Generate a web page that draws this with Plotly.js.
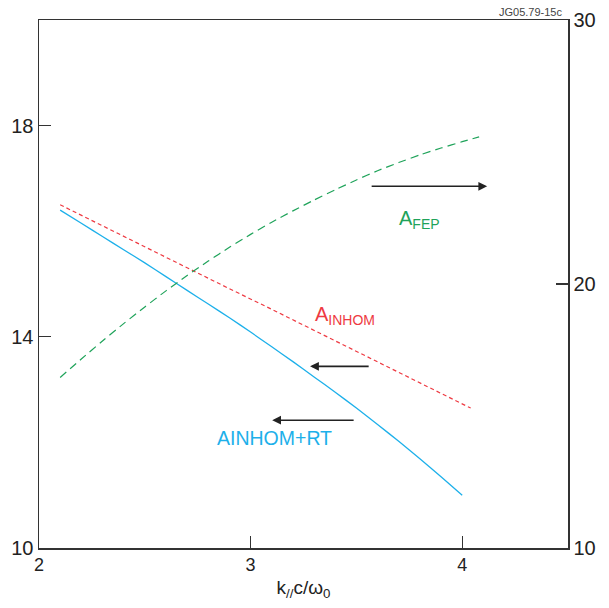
<!DOCTYPE html>
<html>
<head>
<meta charset="utf-8">
<script src="https://cdn.plot.ly/plotly-3.0.1.min.js"></script>
<style>html,body{margin:0;padding:0;background:#fff;}#chart{width:609px;height:608px;}</style>
</head>
<body>
<div id="chart"></div>
<script>
// k//c/w0 values
const kBlue = [2.1,2.2,2.3,2.4,2.5,2.6,2.7,2.8,2.9,3.0,3.1,3.2,3.3,3.4,3.5,3.6,3.7,3.8,3.9,4.0];
const aInhomRT = [16.40,16.15,15.90,15.65,15.40,15.14,14.88,14.62,14.36,14.09,13.81,13.53,13.24,12.95,12.65,12.34,12.02,11.69,11.35,11.00];

const kRed = [2.1,2.3,2.5,2.7,2.9,3.1,3.3,3.5,3.7,3.9,4.04];
const aInhom = [16.50,16.10,15.71,15.31,14.91,14.52,14.12,13.72,13.33,12.93,12.65];

const kGreen = [2.1,2.2,2.3,2.4,2.5,2.6,2.7,2.8,2.9,3.0,3.1,3.2,3.3,3.4,3.5,3.6,3.7,3.8,3.9,4.0,4.08];
const aFep = [16.46,17.16,17.84,18.50,19.13,19.74,20.32,20.87,21.39,21.88,22.34,22.77,23.18,23.57,23.94,24.29,24.60,24.89,25.15,25.39,25.57];

const xTicks = [2,3,4];
const yLeftTicks = [10,14,18];
const yRightTicks = [10,20,30];

// arrows: [tailX, headX, y(left axis)]
const arrows = [[3.565,4.118,16.85],[3.565,3.281,13.44],[3.494,3.102,12.42]];

const FONT = 'Liberation Sans, Arial, Helvetica, sans-serif';
const AX = '#333333';

const traces = [
  {x:kBlue, y:aInhomRT, mode:'lines', line:{color:'#1db0ea', width:1.3, shape:'spline', smoothing:0.6}, yaxis:'y', hoverinfo:'skip'},
  {x:kRed, y:aInhom, mode:'lines', line:{color:'#ee3a42', width:1.2, dash:'4px,3px'}, yaxis:'y', hoverinfo:'skip'},
  {x:kGreen, y:aFep, mode:'lines', line:{color:'#1fa35a', width:1.2, dash:'8px,5px', shape:'spline', smoothing:0.6}, yaxis:'y2', hoverinfo:'skip'}
];

const annotations = arrows.map(a => ({
  x:a[1], y:a[2], ax:a[0], ay:a[2], xref:'x', yref:'y', axref:'x', ayref:'y',
  showarrow:true, arrowhead:2, arrowsize:1.1, arrowwidth:1.6, arrowcolor:'#222', text:''
}));
annotations.push(
  {x:3.80, y:16.22, xref:'x', yref:'y', text:'A<sub>FEP</sub>', showarrow:false,
   font:{family:FONT, size:20, color:'#1fa35a'}},
  {x:3.447, y:14.40, xref:'x', yref:'y', text:'A<sub>INHOM</sub>', showarrow:false,
   font:{family:FONT, size:20, color:'#ee3a42'}},
  {x:3.113, y:12.08, xref:'x', yref:'y', text:'AINHOM+RT', showarrow:false,
   font:{family:FONT, size:19.5, color:'#1db0ea'}},
  {x:1.0, y:1.0, xref:'paper', yref:'paper', text:'JG05.79-15c', showarrow:false,
   xanchor:'right', yanchor:'middle', xshift:-4, yshift:8, font:{family:FONT, size:11, color:'#444'}}
);

const layout = {
  width:609, height:608,
  margin:{l:39, r:41, t:19.5, b:59.5, pad:0},
  paper_bgcolor:'#fff', plot_bgcolor:'#fff',
  showlegend:false,
  font:{family:FONT, color:'#222'},
  xaxis:{range:[2,4.5], tickvals:xTicks, ticktext:xTicks.map(String),
    ticks:'inside', ticklen:12, tickwidth:1.2, tickcolor:AX,
    showline:true, linecolor:AX, linewidth:1.5, mirror:true,
    showgrid:false, zeroline:false, tickfont:{family:FONT, size:18, color:'#222'},
    title:{text:'k<sub>//</sub>c/ω<sub>0</sub>', font:{family:FONT, size:19, color:'#222'}, standoff:6}},
  yaxis:{range:[10,20], tickvals:yLeftTicks, ticktext:yLeftTicks.map(String),
    ticks:'inside', ticklen:12, tickwidth:1.2, tickcolor:AX,
    showline:true, linecolor:AX, linewidth:1.5,
    showgrid:false, zeroline:false, tickfont:{family:FONT, size:20, color:'#222'}},
  yaxis2:{range:[10,30], tickvals:yRightTicks, ticktext:yRightTicks.map(String),
    overlaying:'y', side:'right',
    ticks:'inside', ticklen:12, tickwidth:1.2, tickcolor:AX,
    showline:true, linecolor:AX, linewidth:1.5,
    showgrid:false, zeroline:false, tickfont:{family:FONT, size:20, color:'#222'}},
  annotations:annotations
};

Plotly.newPlot('chart', traces, layout, {displayModeBar:false, staticPlot:true});
</script>
</body>
</html>
